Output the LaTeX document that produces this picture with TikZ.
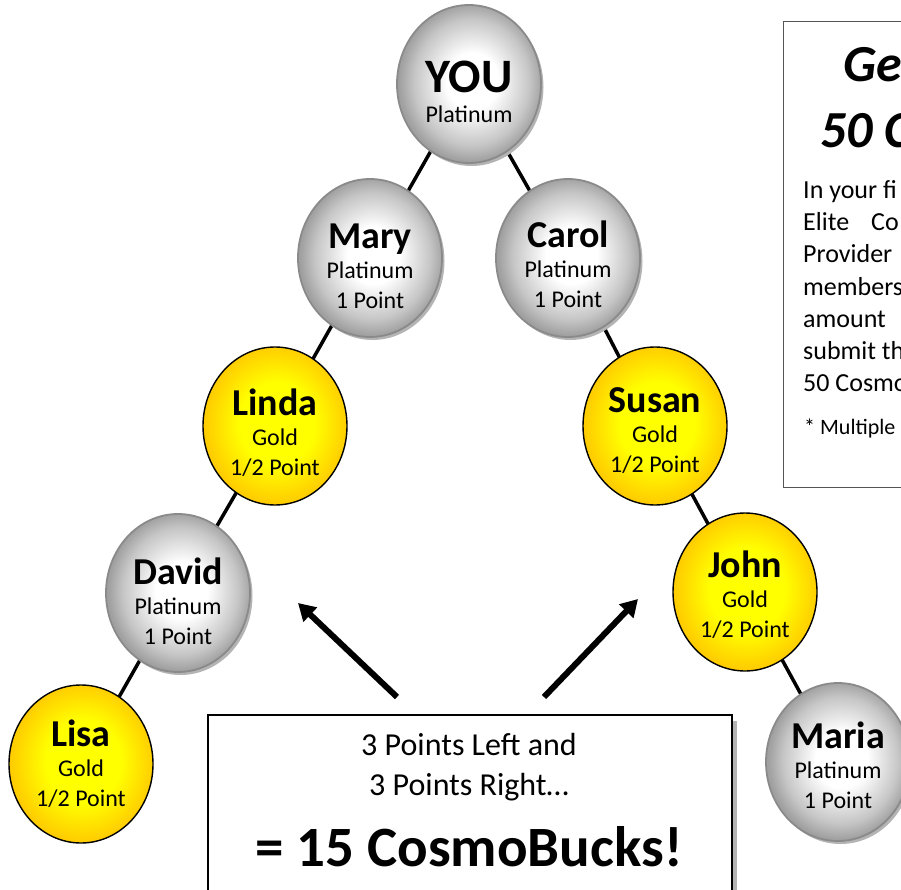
\documentclass[tikz,border=0pt]{standalone}
\usepackage{fontspec}
\setmainfont{Carlito}
\usepackage{tikz}
\usetikzlibrary{shapes.geometric,shadows,arrows.meta,backgrounds}
\definecolor{silverEdge}{HTML}{8A8A8A}
\definecolor{silverDark}{HTML}{A0A0A0}
\definecolor{goldDark}{HTML}{FFCC00}
\definecolor{goldLight}{HTML}{FFFF00}
\definecolor{shadowGray}{HTML}{B4B4B4}
\definecolor{frameGray}{HTML}{555555}
\pgfdeclareradialshading{silverShade}{\pgfpoint{1.5bp}{1bp}}{color(0bp)=(white); color(9bp)=(white); color(20bp)=(silverDark!60!white); color(25bp)=(silverDark); color(50bp)=(silverDark)}
\pgfdeclareradialshading{goldShade}{\pgfpoint{1bp}{1bp}}{color(0bp)=(goldLight); color(13bp)=(goldLight); color(25bp)=(goldDark); color(50bp)=(goldDark)}
\newcommand{\ballName}[1]{{\fontsize{38}{40}\selectfont\bfseries #1}}
\tikzset{
  ball/.style={ellipse, minimum width=144pt, minimum height=158pt, inner sep=0pt},
  ballSilver/.style={ball, draw=silverEdge, line width=1.8pt, shading=silverShade,
    drop shadow={shadow xshift=2.5pt, shadow yshift=-3pt, fill=shadowGray, opacity=1}},
  ballGold/.style={ball, draw=black, line width=1.4pt, shading=goldShade},
  ballText/.style={align=center, inner sep=0pt, font=\fontsize{24}{30}\selectfont},
  linkLine/.style={line width=3.5pt, black},
  bigArrow/.style={line width=6pt, -{Triangle[length=17pt,width=19pt]}},
  sumFrame/.style={draw=black, line width=2.2pt, fill=white,
    drop shadow={shadow xshift=5pt, shadow yshift=-6pt, fill=shadowGray, opacity=1}},
  sumLine/.style={inner sep=0pt, anchor=base, font=\fontsize{32}{40}\selectfont},
  promoFrame/.style={draw=frameGray, line width=1.2pt, fill=white},
  promoTitle/.style={inner sep=0pt, anchor=base west, font=\fontsize{52}{60}\selectfont\bfseries\itshape}
}

\begin{document}
\begin{tikzpicture}[x=1pt, y=-1pt]
  \useasboundingbox (0,0) rectangle (901,890);
  \clip (0,0) rectangle (901,890);

  % promotion box, runs off the page
  \node[promoFrame, anchor=north west, minimum width=200pt, minimum height=466pt] (promoBox) at (783,21) {};
  \node[promoTitle] (promoTitleA) at (843,82) {Ge};
  \node[promoTitle] (promoTitleB) at (820,148) {50 C};
  \node[inner sep=0pt, anchor=north west, align=left, font=\fontsize{26}{32.3}\selectfont] (promoBody) at (803,180)
    {In your fi\\Elite\hspace{22pt}Co\\Provider\\members\\amount\\submit th\\50 Cosmo};
  \node[inner sep=0pt, anchor=base west, font=\fontsize{22}{24}\selectfont] (promoNote) at (804,434) {* Multiple};

  % the tree
  \node[ballSilver] (you) at (469,84) {};
  \node[ballSilver] (mary) at (370,258) {};
  \node[ballSilver] (carol) at (568,258) {};
  \node[ballGold] (linda) at (275,426) {};
  \node[ballGold] (susan) at (655,426) {};
  \node[ballSilver] (david) at (178,593) {};
  \node[ballGold] (john) at (745,592) {};
  \node[ballGold] (lisa) at (81,764) {};
  \node[ballSilver] (maria) at (838,762) {};

  \begin{scope}[on background layer]
    \draw[linkLine] (you.center) -- (mary.center) -- (linda.center) -- (david.center) -- (lisa.center);
    \draw[linkLine] (you.center) -- (carol.center) -- (susan.center) -- (john.center) -- (maria.center);
  \end{scope}

  \node[ballText] (youText) at (469,92) {{\fontsize{48}{50}\selectfont\bfseries YOU}\\Platinum};
  \node[ballText] (maryText) at (370,266) {\ballName{Mary}\\Platinum\\1 Point};
  \node[ballText] (carolText) at (568,264) {\ballName{Carol}\\Platinum\\1 Point};
  \node[ballText] (lindaText) at (275,433) {\ballName{Linda}\\Gold\\1/2 Point};
  \node[ballText] (susanText) at (655,431) {\ballName{Susan}\\Gold\\1/2 Point};
  \node[ballText] (davidText) at (178,601) {\ballName{David}\\Platinum\\1 Point};
  \node[ballText] (johnText) at (745,595) {\ballName{John}\\Gold\\1/2 Point};
  \node[ballText] (lisaText) at (81,764) {\ballName{Lisa}\\Gold\\1/2 Point};
  \node[ballText] (mariaText) at (838,765) {\ballName{Maria}\\Platinum\\1 Point};

  % total box and the two arrows
  \node[sumFrame, anchor=north west, minimum width=524pt, minimum height=200pt] (sumBox) at (207,714) {};
  \node[sumLine] (sumLeft) at (469,755) {3 Points Left and};
  \node[sumLine] (sumRight) at (469,795) {3 Points Right\dots};
  \node[sumLine, font=\fontsize{57}{60}\selectfont\bfseries] (sumTotal) at (469,866) {= 15 CosmoBucks!};

  \coordinate (leftTail) at (397,697);
  \coordinate (leftTip) at (298,603);
  \coordinate (rightTail) at (544,697);
  \coordinate (rightTip) at (638,599);
  \draw[bigArrow] (leftTail) -- (leftTip);
  \draw[bigArrow] (rightTail) -- (rightTip);
\end{tikzpicture}
\end{document}
